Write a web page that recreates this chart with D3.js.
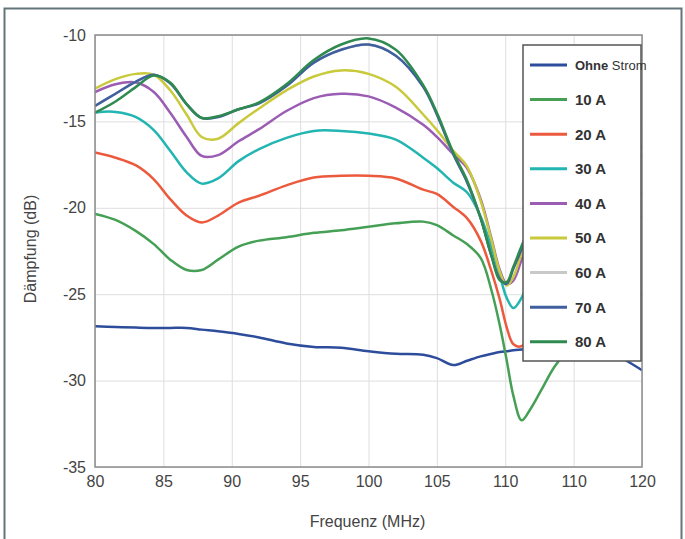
<!DOCTYPE html>
<html>
<head>
<meta charset="utf-8">
<script src="https://cdn.jsdelivr.net/npm/d3@7"></script>
<style>
  body { margin: 0; background: #fff; }
  text { font-family: Arial, "Liberation Sans", sans-serif; }
</style>
</head>
<body>
<script>
var width = 685,
    height = 539;

// frequency grid (MHz), shared by all curves
var freq = [80, 81.5, 83, 84.3, 85.5, 86.7, 87.8, 89, 90.5, 92, 94, 96, 98, 100, 102, 104, 105,
            106.2, 107.2, 108.2, 109, 109.6, 110.1, 110.6, 111.2, 111.8, 112.6, 113.6, 115, 117.5, 120];

var ohneStrom = [-26.85, -26.9, -26.93, -26.95, -26.95, -26.95, -27.05, -27.15, -27.3, -27.5, -27.85, -28.05, -28.1, -28.3, -28.45, -28.5, -28.7,
                 -29.1, -28.85, -28.6, -28.45, -28.35, -28.3, -28.25, -28.2, -28.15, -28.1, -28.1, -28.15, -28.35, -29.4];
var a10 = [-20.35, -20.7, -21.35, -22.1, -23.0, -23.6, -23.6, -23.0, -22.25, -21.9, -21.7, -21.45, -21.3, -21.1, -20.9, -20.8, -21.0,
           -21.6, -22.1, -22.9, -24.8, -26.8, -28.8, -30.9, -32.3, -31.7, -30.6, -29.2, -27.8, -26.0, -25.0];
var a20 = [-16.8, -17.1, -17.55, -18.35, -19.5, -20.45, -20.85, -20.45, -19.7, -19.3, -18.7, -18.25, -18.15, -18.15, -18.3, -18.95, -19.2,
           -19.95, -20.6, -21.9, -23.7, -25.3, -26.9, -27.9, -28.0, -27.2, -25.8, -24.5, -23.0, -21.5, -20.5];
var a30 = [-14.48, -14.45, -14.75, -15.5, -16.7, -17.95, -18.6, -18.3, -17.3, -16.6, -15.95, -15.55, -15.55, -15.7, -16.05, -17.1, -17.7,
           -18.55, -19.1, -20.5, -22.3, -23.9, -25.2, -25.8, -25.2, -24.0, -22.8, -21.8, -20.8, -19.8, -19.2];
var a40 = [-13.3, -12.85, -12.75, -13.3, -14.5, -15.9, -17.0, -16.95, -16.15, -15.45, -14.4, -13.65, -13.4, -13.55, -14.2, -15.2, -15.9,
           -16.9, -17.7, -19.5, -21.8, -23.6, -24.4, -24.2, -23.0, -21.8, -20.5, -19.5, -18.5, -17.5, -17.0];
var a50 = [-13.1, -12.55, -12.25, -12.3, -13.2, -14.6, -15.9, -16.0, -15.1, -14.25, -13.2, -12.4, -12.05, -12.25, -13.0, -14.6, -15.5,
           -16.7, -17.6, -19.6, -21.9, -23.7, -24.5, -24.0, -22.6, -21.3, -20.0, -19.0, -18.0, -17.0, -16.5];
var a60 = [-14.1, -13.4, -12.7, -12.3, -12.8, -14.0, -14.8, -14.75, -14.3, -13.95, -12.95, -11.6, -10.85, -10.55, -11.2, -13.0, -14.6,
           -16.9, -18.5, -20.6, -22.8, -24.1, -24.4, -23.5, -22.4, -21.3, -20.0, -19.0, -18.0, -17.0, -16.5];
var a70 = [-14.1, -13.4, -12.7, -12.3, -12.8, -14.0, -14.8, -14.75, -14.3, -13.95, -12.95, -11.6, -10.85, -10.55, -11.2, -13.0, -14.6,
           -16.9, -18.5, -20.6, -22.8, -24.1, -24.4, -23.5, -22.4, -21.3, -20.0, -19.0, -18.0, -17.0, -16.5];
var a80 = [-14.5, -13.85, -13.0, -12.35, -12.75, -14.0, -14.8, -14.7, -14.3, -13.9, -12.85, -11.45, -10.55, -10.2, -10.85, -12.9, -14.5,
           -16.8, -18.4, -20.6, -22.8, -24.2, -24.3, -23.4, -22.2, -21.1, -19.9, -18.9, -17.9, -16.9, -16.4];

var seriesNames = ['Ohne Strom', '10 A', '20 A', '30 A', '40 A', '50 A', '60 A', '70 A', '80 A'];
var seriesValues = [ohneStrom, a10, a20, a30, a40, a50, a60, a70, a80];
var seriesColors = ['#2d4d9c', '#45a055', '#ec5a3e', '#22b5b2', '#9b5cb4', '#c9c93c', '#c8c8c8', '#3f5f9f', '#2f8a50'];

var xTicks = [80, 85, 90, 95, 100, 105, 110, 115, 120],
    xTickLabels = ['80', '85', '90', '95', '100', '105', '110', '110', '120'],
    yTicks = [-10, -15, -20, -25, -30, -35],
    yTickLabels = ['-10', '-15', '-20', '-25', '-30', '-35'];

var plotL = 95, plotR = 642, plotT = 35, plotB = 467;

var x = d3.scaleLinear().domain([80, 120]).range([plotL, plotR]);
var y = d3.scaleLinear().domain([-35, -10]).range([plotB, plotT]);

var svg = d3.select('body').append('svg')
    .attr('width', width)
    .attr('height', height);

// outer frame
svg.append('rect')
    .attr('x', 4.5).attr('y', 8.5)
    .attr('width', 677).attr('height', 540)
    .attr('fill', 'none')
    .attr('stroke', '#63757a')
    .attr('stroke-width', 2);

// grid
svg.append('g')
    .attr('transform', 'translate(0,' + plotB + ')')
    .call(d3.axisBottom(x).tickValues(xTicks).tickSize(-(plotB - plotT)).tickFormat(''))
    .call(function(g) {
        g.select('.domain').remove();
        g.selectAll('line').attr('stroke', '#dedede');
    });
svg.append('g')
    .attr('transform', 'translate(' + plotL + ',0)')
    .call(d3.axisLeft(y).tickValues(yTicks).tickSize(-(plotR - plotL)).tickFormat(''))
    .call(function(g) {
        g.select('.domain').remove();
        g.selectAll('line').attr('stroke', '#dedede');
    });

// tick labels
svg.append('g')
    .attr('transform', 'translate(0,' + plotB + ')')
    .call(d3.axisBottom(x).tickValues(xTicks).tickSize(0).tickPadding(9)
        .tickFormat(function(d, i) { return xTickLabels[i]; }))
    .call(function(g) {
        g.select('.domain').remove();
        g.selectAll('text').attr('font-size', 16).attr('fill', '#444')
            .attr('font-family', 'Arial, "Liberation Sans", sans-serif');
    });
svg.append('g')
    .attr('transform', 'translate(' + plotL + ',0)')
    .call(d3.axisLeft(y).tickValues(yTicks).tickSize(0).tickPadding(9)
        .tickFormat(function(d, i) { return yTickLabels[i]; }))
    .call(function(g) {
        g.select('.domain').remove();
        g.selectAll('text').attr('font-size', 16).attr('fill', '#444')
            .attr('font-family', 'Arial, "Liberation Sans", sans-serif');
    });

// axis titles
svg.append('text')
    .attr('x', (plotL + plotR) / 2 - 1)
    .attr('y', 527)
    .attr('text-anchor', 'middle')
    .attr('font-size', 16)
    .attr('fill', '#444')
    .text('Frequenz (MHz)');
svg.append('text')
    .attr('transform', 'translate(36,' + 249 + ')rotate(-90)')
    .attr('text-anchor', 'middle')
    .attr('font-size', 16)
    .attr('fill', '#444')
    .text('Dämpfung (dB)');

// curves
svg.append('clipPath').attr('id', 'plot')
    .append('rect')
    .attr('x', plotL).attr('y', plotT)
    .attr('width', plotR - plotL).attr('height', plotB - plotT);

var line = d3.line()
    .x(function(d) { return x(d[0]); })
    .y(function(d) { return y(d[1]); })
    .curve(d3.curveCatmullRom.alpha(0.5));

svg.append('g')
    .attr('clip-path', 'url(#plot)')
    .selectAll('path')
    .data(seriesValues)
    .enter().append('path')
    .attr('d', function(vals) { return line(freq.map(function(f, i) { return [f, vals[i]]; })); })
    .attr('fill', 'none')
    .attr('stroke', function(d, i) { return seriesColors[i]; })
    .attr('stroke-width', 2.5)
    .attr('stroke-linejoin', 'round');

// plot border
svg.append('rect')
    .attr('x', plotL).attr('y', plotT)
    .attr('width', plotR - plotL).attr('height', plotB - plotT)
    .attr('fill', 'none')
    .attr('stroke', '#8c8c8c')
    .attr('stroke-width', 1.5);

// legend
var legend = svg.append('g').attr('transform', 'translate(523,45)');
legend.append('rect')
    .attr('width', 118).attr('height', 316)
    .attr('fill', '#fff')
    .attr('stroke', '#555')
    .attr('stroke-width', 1.5);

var item = legend.selectAll('.item')
    .data(seriesNames)
    .enter().append('g')
    .attr('class', 'item')
    .attr('transform', function(d, i) { return 'translate(0,' + (20 + i * 34.6) + ')'; });

item.append('line')
    .attr('x1', 7).attr('x2', 44)
    .attr('stroke', function(d, i) { return seriesColors[i]; })
    .attr('stroke-width', 3);

item.append('text')
    .attr('x', 52)
    .attr('dy', '0.36em')
    .attr('font-size', function(d, i) { return i === 0 ? 13 : 15; })
    .attr('font-weight', 'bold')
    .attr('fill', '#333')
    .each(function(d, i) {
        var t = d3.select(this);
        if (i === 0) {
            t.append('tspan').text('Ohne ');
            t.append('tspan').attr('font-weight', 'normal').text('Strom');
        } else {
            t.text(d);
        }
    });
</script>
</body>
</html>
